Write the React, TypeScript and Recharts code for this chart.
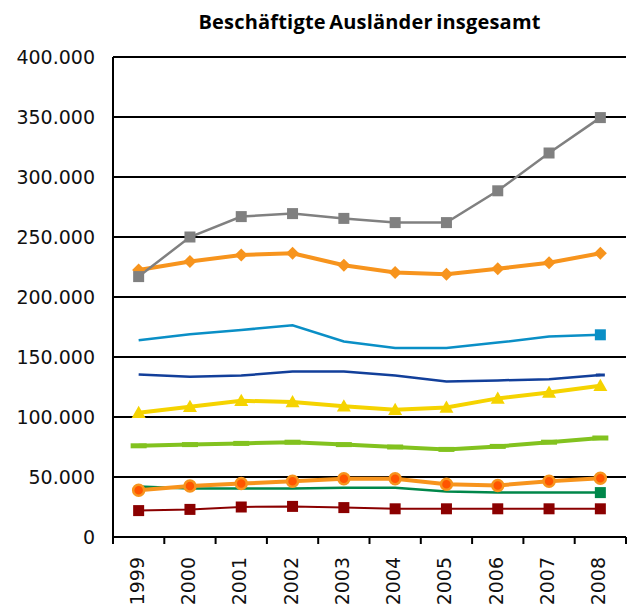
import React from "react";
import { LineChart, Line, XAxis, YAxis, CartesianGrid } from "recharts";

const years = ["1999", "2000", "2001", "2002", "2003", "2004", "2005", "2006", "2007", "2008"];

const grauQuadrat = [217000, 250000, 267000, 269500, 265500, 262000, 262000, 288500, 320000, 349500];
const orangeRaute = [222500, 229500, 235000, 236500, 226500, 220500, 219000, 223500, 228500, 236500];
const hellblau = [164000, 169000, 172500, 176500, 163000, 157500, 157500, 162000, 167000, 168500];
const dunkelblau = [135500, 133500, 134500, 138000, 138000, 134500, 129500, 130500, 131500, 135000];
const gelbDreieck = [103500, 108500, 113500, 112500, 109000, 106000, 108000, 115500, 120500, 126000];
const hellgruen = [76000, 77000, 78000, 79000, 77000, 75000, 73000, 75500, 79000, 82500];
const orangeKreis = [39000, 42500, 44500, 46500, 48500, 48500, 44000, 43000, 46500, 49000];
const dunkelgruen = [42000, 40500, 40500, 40500, 41000, 41000, 38000, 37000, 37000, 37000];
const dunkelrot = [22000, 23000, 25000, 25500, 24500, 23500, 23500, 23500, 23500, 23500];

const yTicks = [0, 50000, 100000, 150000, 200000, 250000, 300000, 350000, 400000];

const data = years.map((year, i) => ({
  year,
  grauQuadrat: grauQuadrat[i],
  orangeRaute: orangeRaute[i],
  hellblau: hellblau[i],
  dunkelblau: dunkelblau[i],
  gelbDreieck: gelbDreieck[i],
  hellgruen: hellgruen[i],
  orangeKreis: orangeKreis[i],
  dunkelgruen: dunkelgruen[i],
  dunkelrot: dunkelrot[i],
}));

const FONT = "'DejaVu Sans', Verdana, sans-serif";
const HALF = 25.65; // half a category step

const fmt = (v: number) => String(v).replace(/\B(?=(\d{3})+(?!\d))/g, ".");

const square = (color: string, size: number, onlyLast = false) => (p: any) => {
  if (onlyLast && p.index !== years.length - 1) return <g key={p.index} />;
  return (
    <rect key={p.index} x={p.cx - size / 2} y={p.cy - size / 2} width={size} height={size} fill={color} />
  );
};

const dash = (color: string, w: number, h: number, onlyLast = false) => (p: any) => {
  if (onlyLast && p.index !== years.length - 1) return <g key={p.index} />;
  return <rect key={p.index} x={p.cx - w / 2} y={p.cy - h / 2} width={w} height={h} fill={color} />;
};

const diamond = (color: string, r: number) => (p: any) => (
  <path
    key={p.index}
    d={`M${p.cx},${p.cy - r} L${p.cx + r},${p.cy} L${p.cx},${p.cy + r} L${p.cx - r},${p.cy} Z`}
    fill={color}
  />
);

const triangle = (color: string, r: number) => (p: any) => (
  <path
    key={p.index}
    d={`M${p.cx},${p.cy - r} L${p.cx + r},${p.cy + r * 0.75} L${p.cx - r},${p.cy + r * 0.75} Z`}
    fill={color}
  />
);

const circle = (fill: string, stroke: string, r: number) => (p: any) => (
  <circle key={p.index} cx={p.cx} cy={p.cy} r={r} fill={fill} stroke={stroke} strokeWidth={2.5} />
);

const YearTick = (props: any) => {
  const { x, y, payload, index } = props;
  const ty = y + 20;
  return (
    <g>
      <line x1={x - HALF} x2={x - HALF} y1={y} y2={y + 7} stroke="#000" strokeWidth={2} />
      {index === years.length - 1 && (
        <line x1={x + HALF} x2={x + HALF} y1={y} y2={y + 7} stroke="#000" strokeWidth={2} />
      )}
      <text
        x={x - 2}
        y={ty}
        transform={`rotate(-90 ${x - 2} ${ty})`}
        textAnchor="end"
        dominantBaseline="central"
        fontFamily={FONT}
        fontSize={19}
        fill="#111"
      >
        {payload.value}
      </text>
    </g>
  );
};

export default function App() {
  return (
    <div style={{ position: "absolute", left: 0, top: 0, width: 630, height: 605, background: "#fff" }}>
      <div
        style={{
          position: "absolute",
          left: 113,
          top: 8,
          width: 513,
          textAlign: "center",
          fontFamily: "'Open Sans', sans-serif",
          fontWeight: 700,
          fontSize: 20,
          letterSpacing: 0.2,
          wordSpacing: -2,
          color: "#000",
        }}
      >
        Beschäftigte Ausländer insgesamt
      </div>
      <LineChart width={630} height={605} data={data} margin={{ top: 57, right: 4, bottom: 0, left: 0 }}>
        <CartesianGrid vertical={false} stroke="#000" strokeWidth={2} />
        <XAxis
          dataKey="year"
          height={68}
          padding={{ left: HALF, right: HALF }}
          axisLine={{ stroke: "#000", strokeWidth: 2 }}
          tickLine={false}
          tickSize={0}
          tickMargin={0}
          interval={0}
          tick={<YearTick />}
        />
        <YAxis
          width={113}
          domain={[0, 400000]}
          ticks={yTicks}
          tickFormatter={fmt}
          axisLine={{ stroke: "#000", strokeWidth: 2 }}
          tickLine={false}
          tickSize={0}
          tickMargin={18}
          tick={{ fontFamily: FONT, fontSize: 19, fill: "#111" }}
        />
        <Line dataKey="dunkelrot" stroke="#8B0000" strokeWidth={2} dot={square("#8B0000", 11)} isAnimationActive={false} />
        <Line dataKey="dunkelgruen" stroke="#00874A" strokeWidth={2.5} dot={square("#00874A", 11, true)} isAnimationActive={false} />
        <Line dataKey="orangeKreis" stroke="#F7941D" strokeWidth={4} dot={circle("#FF5500", "#F7941D", 5.5)} isAnimationActive={false} />
        <Line dataKey="hellgruen" stroke="#82C21F" strokeWidth={4} dot={dash("#82C21F", 16, 5)} isAnimationActive={false} />
        <Line dataKey="gelbDreieck" stroke="#F5D300" strokeWidth={4} dot={triangle("#F5D300", 7)} isAnimationActive={false} />
        <Line dataKey="dunkelblau" stroke="#123F9A" strokeWidth={2.5} dot={dash("#123F9A", 9, 3, true)} isAnimationActive={false} />
        <Line dataKey="hellblau" stroke="#0A8FC6" strokeWidth={2.5} dot={square("#0A8FC6", 11, true)} isAnimationActive={false} />
        <Line dataKey="orangeRaute" stroke="#F7941D" strokeWidth={4} dot={diamond("#F7941D", 6.5)} isAnimationActive={false} />
        <Line dataKey="grauQuadrat" stroke="#808080" strokeWidth={2.5} dot={square("#808080", 11)} isAnimationActive={false} />
      </LineChart>
    </div>
  );
}
